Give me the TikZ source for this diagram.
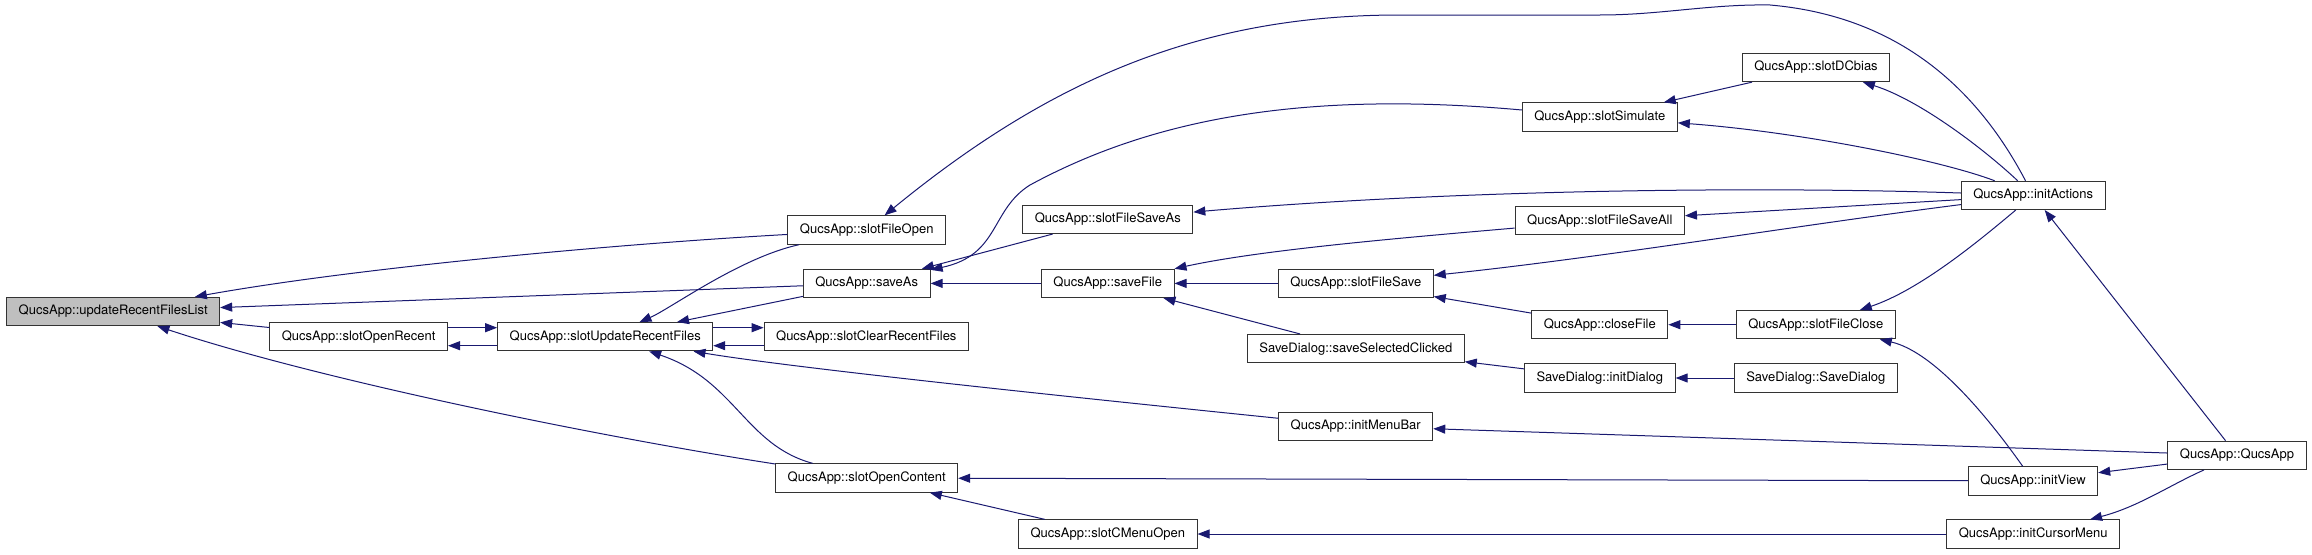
\documentclass[tikz,border=0pt]{standalone}
\usepackage{fontspec}
\setmainfont{TeX Gyre Heros}
\usetikzlibrary{arrows.meta}
\definecolor{edgeblue}{RGB}{25,25,112}
\tikzset{
  fn/.style={draw=black!80, line width=1pt, fill=white, minimum height=28.3pt,
    inner xsep=12pt, inner ysep=0pt, font=\fontsize{13}{15}\selectfont},
  root/.style={fn, fill=black!25},
  call/.style={draw=edgeblue, line width=1pt, -{Triangle[length=12pt,width=9pt]}},
}
\begin{document}
\begin{tikzpicture}[x=1pt,y=-1pt]
\useasboundingbox (0,0) rectangle (2312,554);
\node[root] (updList) at (113.2,311.5) {QucsApp::updateRecentFilesList};
\node[fn] (openRecent) at (358.7,336.7) {QucsApp::slotOpenRecent};
\node[fn] (updRecent) at (605.2,336.7) {QucsApp::slotUpdateRecentFiles};
\node[fn] (fileOpen) at (866.7,230) {QucsApp::slotFileOpen};
\node[fn] (saveAs) at (866.7,283.4) {QucsApp::saveAs};
\node[fn] (clearRecent) at (866.3,336.7) {QucsApp::slotClearRecentFiles};
\node[fn] (openContent) at (866.7,478) {QucsApp::slotOpenContent};
\node[fn] (fileSaveAs) at (1107.8,219.4) {QucsApp::slotFileSaveAs};
\node[fn] (saveFile) at (1107.7,283.4) {QucsApp::saveFile};
\node[fn] (cMenuOpen) at (1107.8,534) {QucsApp::slotCMenuOpen};
\node[fn] (fileSave) at (1355.8,283.4) {QucsApp::slotFileSave};
\node[fn] (saveSel) at (1355.8,348.6) {SaveDialog::saveSelectedClicked};
\node[fn] (menuBar) at (1355.7,426.2) {QucsApp::initMenuBar};
\node[fn] (dcBias) at (1816,67.5) {QucsApp::slotDCbias};
\node[fn] (simulate) at (1599.8,117) {QucsApp::slotSimulate};
\node[fn] (fileSaveAll) at (1599.8,220.7) {QucsApp::slotFileSaveAll};
\node[fn] (closeFile) at (1599.8,324.7) {QucsApp::closeFile};
\node[fn] (initDlg) at (1599.8,378) {SaveDialog::initDialog};
\node[fn] (fileClose) at (1815.8,324.7) {QucsApp::slotFileClose};
\node[fn] (saveDlg) at (1815.8,378) {SaveDialog::SaveDialog};
\node[fn] (initActions) at (2033.2,195.4) {QucsApp::initActions};
\node[fn] (qucsApp) at (2237,455.3) {QucsApp::QucsApp};
\node[fn] (initView) at (2033,480.9) {QucsApp::initView};
\node[fn] (cursorMenu) at (2033.2,534) {QucsApp::initCursorMenu};

\foreach \a/\b in {saveAs/updList, openRecent/updList, saveAs/updRecent,
    fileSaveAs/saveAs, saveFile/saveAs, fileSave/saveFile, saveSel/saveFile,
    dcBias/simulate, initActions/fileSaveAll, closeFile/fileSave,
    fileClose/closeFile, initDlg/saveSel, saveDlg/initDlg, qucsApp/menuBar,
    qucsApp/initActions, qucsApp/initView, initView/openContent,
    cursorMenu/cMenuOpen, cMenuOpen/openContent}
  \draw[call] (\a) -- (\b);

\draw[call] ([yshift=9pt]openRecent.east) -- ([yshift=9pt]updRecent.west);
\draw[call] ([yshift=-9pt]updRecent.west) -- ([yshift=-9pt]openRecent.east);
\draw[call] ([yshift=9pt]updRecent.east) -- ([yshift=9pt]clearRecent.west);
\draw[call] ([yshift=-9pt]clearRecent.west) -- ([yshift=-9pt]updRecent.east);

\draw[call] (fileOpen) .. controls (600,245) and (350,269) .. (updList);
\draw[call] (openContent) .. controls (600,437) and (320,380) .. (updList);
\draw[call] (fileOpen) .. controls (740,257.5) and (670,309) .. (updRecent);
\draw[call] (menuBar) .. controls (1100,400) and (800,369) .. (updRecent);
\draw[call] (openContent) .. controls (745,445) and (735,380) .. (updRecent);
\draw[call] (simulate) .. controls (1300,90) and (1150,120) .. (1030,185)
  .. controls (990,210) and (1000,255) .. (saveAs);
\draw[call] (initActions) .. controls (1970,75) and (1885,15) .. (1770,5)
  .. controls (1710,4) and (1660,15) .. (1600,15) -- (1400,15)
  .. controls (1200,15) and (1050,80) .. (fileOpen);
\draw[call] (initActions) .. controls (1750,186) and (1450,190) .. (fileSaveAs);
\draw[call] (fileSaveAll) .. controls (1400,238) and (1260,250) .. (saveFile);
\draw[call] (initActions) .. controls (1800,225) and (1600,258) .. (fileSave);
\draw[call] (initActions) .. controls (1940,160) and (1800,132) .. (simulate);
\draw[call] (initActions) .. controls (1985,150) and (1920,100) .. (dcBias);
\draw[call] (initActions) .. controls (1980,240) and (1920,290) .. (fileClose);
\draw[call] (qucsApp) .. controls (2170,485) and (2138,507) .. (cursorMenu);
\draw[call] (initView) .. controls (1990,420) and (1935,352) .. (fileClose);
\end{tikzpicture}
\end{document}
